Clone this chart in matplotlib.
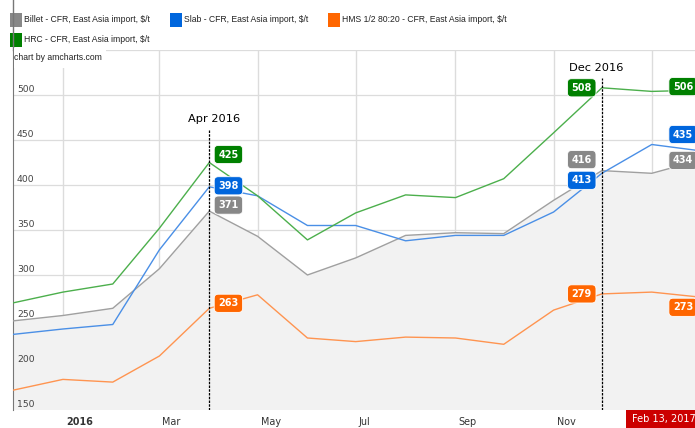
import numpy as np
import matplotlib
matplotlib.use('Agg')
import matplotlib.pyplot as plt
import matplotlib.dates as mdates
from matplotlib.patches import Rectangle
from datetime import datetime

# monthly prices, $/t (last point = cursor date)
dates = ['2015-12-01', '2016-01-01', '2016-02-01', '2016-03-01', '2016-04-01',
         '2016-05-01', '2016-06-01', '2016-07-01', '2016-08-01', '2016-09-01',
         '2016-10-01', '2016-11-01', '2016-12-01', '2017-01-01', '2017-02-13']
billet = [249, 255, 263, 307, 371, 343, 300, 319, 344, 347, 346, 383, 416, 413, 434]
slab = [234, 240, 245, 328, 398, 388, 355, 355, 338, 344, 344, 370, 413, 445, 435]
hms = [172, 184, 181, 210, 263, 278, 230, 226, 231, 230, 223, 261, 279, 281, 273]
hrc = [269, 281, 290, 352, 425, 388, 339, 369, 389, 386, 407, 458, 508, 504, 506]

series_names = ['Billet - CFR, East Asia import, $/t', 'Slab - CFR, East Asia import, $/t',
                'HMS 1/2 80:20 - CFR, East Asia import, $/t', 'HRC - CFR, East Asia import, $/t']
tick_dates = ['2016-01-01', '2016-03-01', '2016-05-01', '2016-07-01', '2016-09-01',
              '2016-11-01', '2017-01-01']
tick_labels = ['2016', 'Mar', 'May', 'Jul', 'Sep', 'Nov', '']
y_ticks = [150, 200, 250, 300, 350, 400, 450, 500]

x = mdates.date2num([datetime.strptime(d, '%Y-%m-%d') for d in dates])
xt = mdates.date2num([datetime.strptime(d, '%Y-%m-%d') for d in tick_dates])

swatch = {'billet': '#888888', 'slab': '#0066dd', 'hms': '#ff6600', 'hrc': '#008000'}
line_col = {'billet': '#a0a0a0', 'slab': '#4a8fe6', 'hms': '#ff9450', 'hrc': '#4caf4c'}
small_font = ['Liberation Sans', 'DejaVu Sans']

W, H = 695, 428
fig = plt.figure(figsize=(W / 100, H / 100), dpi=100)
ax = fig.add_axes([13 / W, (H - 410) / H, (695 - 13) / W, (410 - 50) / H])

# 1.609 px per day on the date axis
x0 = x[0]
x1 = x[0] + (695 - 13) / 1.609
ax.set_xlim(x0, x1)
ax.set_ylim(150, 550)

# grid
for v in y_ticks + [550]:
    ax.axhline(v, color='#dcdcdc', lw=0.9, zorder=0)
for t in xt:
    ax.axvline(t, color='#dcdcdc', lw=1.0, zorder=0)

ax.fill_between(x, billet, 150, color='#f2f2f2', zorder=1, lw=0)
ax.plot(x, billet, color=line_col['billet'], lw=1, zorder=3)
ax.plot(x, slab, color=line_col['slab'], lw=1, zorder=3)
ax.plot(x, hms, color=line_col['hms'], lw=1, zorder=3)
ax.plot(x, hrc, color=line_col['hrc'], lw=1, zorder=3)

for s in ['top', 'right', 'bottom']:
    ax.spines[s].set_visible(False)
ax.spines['left'].set_color('#777777')
ax.set_xticks([])
ax.set_yticks([])

# y labels inside the plot
for v in y_ticks:
    ax.annotate(str(v), xy=(0, v), xycoords=('axes fraction', 'data'),
                xytext=(4, 1), textcoords='offset pixels', ha='left', va='bottom',
                fontsize=6.7, color='#444444')

# x labels below
for t, lab in zip(xt, tick_labels):
    ax.annotate(lab, xy=(t, 0), xycoords=('data', 'axes fraction'),
                xytext=(3, -12), textcoords='offset pixels', ha='left', va='center',
                fontsize=6.9, color='#333333',
                fontweight='bold' if lab == '2016' else 'normal', annotation_clip=False)

# cursors
cursors = [(4, 'Apr 2016', 462, 5), (12, 'Dec 2016', 519, -6)]
for i, lab, top, dx in cursors:
    ax.plot([x[i], x[i]], [150, top], color='black', lw=0.9, ls=(0, (2, 1)), zorder=4)
    ax.annotate(lab, xy=(x[i], top), xytext=(dx, 10), textcoords='offset pixels',
                ha='center', va='center', fontsize=8.2, color='black')


def balloon(i, val, key, dx, dy, ha):
    ax.annotate(str(val), xy=(x[i], val), xytext=(dx, dy), textcoords='offset pixels',
                ha=ha, va='center', fontsize=7, color='white', fontweight='bold',
                zorder=6, annotation_clip=False,
                bbox=dict(boxstyle='round,pad=0.42', fc=swatch[key], ec='white', lw=0.6))


# Apr 2016 balloons (right of the point)
balloon(4, hrc[4], 'hrc', 9, 8, 'left')
balloon(4, slab[4], 'slab', 9, 1, 'left')
balloon(4, billet[4], 'billet', 9, 6, 'left')
balloon(4, hms[4], 'hms', 9, 5, 'left')
# Dec 2016 balloons (left of the point)
balloon(12, hrc[12], 'hrc', -10, 0, 'right')
balloon(12, billet[12], 'billet', -10, 11, 'right')
balloon(12, slab[12], 'slab', -10, -7, 'right')
balloon(12, hms[12], 'hms', -10, 0, 'right')
# Feb 13, 2017 balloons (clipped at the right edge)
balloon(14, hrc[14], 'hrc', -48, 3, 'left')
balloon(14, slab[14], 'slab', -48, 19, 'left')
balloon(14, billet[14], 'billet', -48, -6, 'left')
balloon(14, hms[14], 'hms', -48, -8, 'left')

# cursor date label
fig.patches.append(Rectangle((626 / W, 0), 80 / W, 18 / H, transform=fig.transFigure,
                             fc='#cc0000', ec='none', zorder=5))
fig.text(632 / W, 9 / H, 'Feb 13, 2017', color='white', fontsize=7.0, ha='left',
         va='center', zorder=6)

# left line through the legend area
fig.add_artist(plt.Line2D([13 / W, 13 / W], [(H - 50) / H, 1], transform=fig.transFigure,
                          color='#777777', lw=1))

# legend
legend_pos = [(10, 20, 'billet'), (170, 20, 'slab'), (328, 20, 'hms'), (10, 40, 'hrc')]
for (lx, ly, key), name in zip(legend_pos, series_names):
    fig.patches.append(Rectangle((lx / W, (H - ly - 7) / H), 12 / W, 14 / H,
                                 transform=fig.transFigure, fc=swatch[key], ec='none'))
    fig.text((lx + 14) / W, (H - ly) / H, name, family=small_font, fontsize=6.2,
             color='#222222', ha='left', va='center')

# credit box
fig.patches.append(Rectangle((14 / W, (H - 68) / H), 92 / W, 20 / H,
                             transform=fig.transFigure, fc='white', ec='none', zorder=3))
fig.text(14 / W, (H - 58) / H, 'chart by amcharts.com', family=small_font, fontsize=6.2,
         color='#222222', ha='left', va='center', zorder=4)

fig.savefig('out.png', dpi=100)
